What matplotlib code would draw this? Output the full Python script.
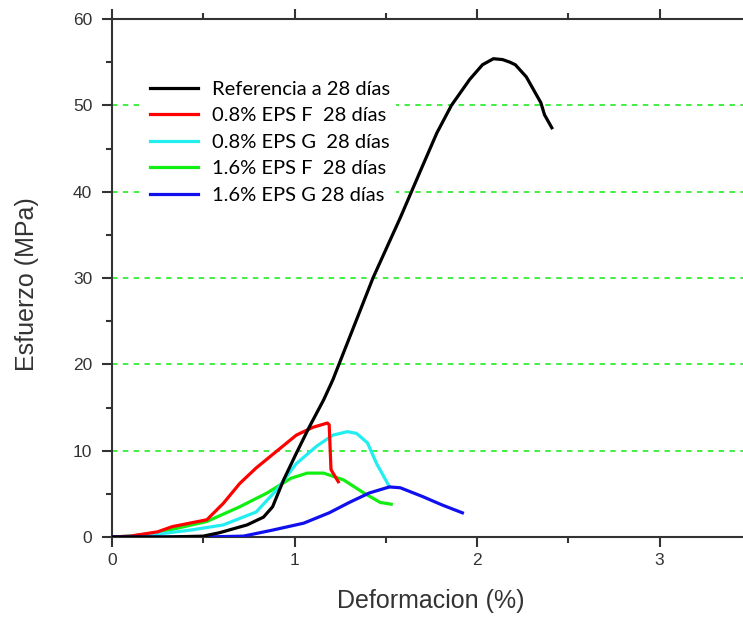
import matplotlib
matplotlib.use("Agg")
import matplotlib.pyplot as plt
from matplotlib.ticker import MultipleLocator

ref_x = [0, 0.3, 0.5, 0.59, 0.74, 0.83, 0.88, 0.94, 1.01, 1.08, 1.16, 1.21, 1.43, 1.58, 1.70, 1.78, 1.86, 1.96, 2.03, 2.09, 2.14, 2.18, 2.21, 2.27, 2.35, 2.37, 2.41]
ref_y = [0, 0, 0.1, 0.5, 1.4, 2.3, 3.5, 6.6, 9.7, 12.7, 15.9, 18.2, 30, 37.0, 42.9, 46.8, 50, 53, 54.7, 55.4, 55.3, 55.0, 54.7, 53.3, 50.3, 48.9, 47.4]

rf_x = [0, 0.1, 0.25, 0.33, 0.52, 0.61, 0.70, 0.79, 0.90, 1.01, 1.10, 1.18, 1.19, 1.20, 1.24]
rf_y = [0, 0.1, 0.6, 1.2, 2.0, 3.9, 6.2, 8.0, 9.9, 11.8, 12.7, 13.2, 13.0, 7.8, 6.4]

cg_x = [0, 0.2, 0.43, 0.61, 0.79, 0.90, 1.01, 1.12, 1.21, 1.29, 1.34, 1.40, 1.45, 1.50, 1.52]
cg_y = [0, 0.2, 0.8, 1.4, 2.9, 5.4, 8.5, 10.5, 11.8, 12.2, 12.0, 10.9, 8.5, 6.6, 5.8]

gf_x = [0, 0.1, 0.25, 0.52, 0.70, 0.85, 0.98, 1.07, 1.16, 1.27, 1.38, 1.47, 1.53]
gf_y = [0, 0.1, 0.5, 1.8, 3.5, 5.1, 6.8, 7.4, 7.4, 6.6, 5.1, 4.0, 3.8]

bg_x = [0, 0.5, 0.72, 0.88, 1.05, 1.19, 1.30, 1.41, 1.52, 1.58, 1.70, 1.81, 1.92]
bg_y = [0, 0, 0.1, 0.8, 1.6, 2.8, 4.0, 5.1, 5.8, 5.7, 4.7, 3.7, 2.8]

labels = ["Referencia a 28 días", "0.8% EPS F  28 días", "0.8% EPS G  28 días",
          "1.6% EPS F  28 días", "1.6% EPS G 28 días"]
colors = ["#000000", "#ff0000", "#22eef2", "#11ee11", "#1010ee"]

fig = plt.figure(figsize=(7.43, 6.18), dpi=100)
ax = fig.add_axes([112/743, 1-537/618, 1-112/743, (537-19)/618])

for y in [10, 20, 30, 40, 50]:
    ax.axhline(y, color="#33ee33", ls=(0, (3, 3)), lw=1.3, zorder=1)

series = [(ref_x, ref_y), (rf_x, rf_y), (cg_x, cg_y), (gf_x, gf_y), (bg_x, bg_y)]
order = [3, 2, 1, 4, 0]
lines = [None]*5
for i in order:
    xs, ys = series[i]
    lines[i], = ax.plot(xs, ys, color=colors[i], lw=2.3, zorder=3, label=labels[i])

ax.set_xlim(0, (743-112)/182.5)
ax.set_ylim(0, 60)
ax.xaxis.set_major_locator(MultipleLocator(1))
ax.xaxis.set_minor_locator(MultipleLocator(0.5))
ax.yaxis.set_major_locator(MultipleLocator(10))
ax.yaxis.set_minor_locator(MultipleLocator(5))
ax.spines["right"].set_visible(False)
for s in ["left", "bottom", "top"]:
    ax.spines[s].set_color("#333333")
    ax.spines[s].set_linewidth(1.5)
ax.tick_params(which="both", direction="out", color="#333333", width=1.5,
               top=True, labeltop=False, labelsize=12.5, labelcolor="#333333")
ax.tick_params(which="major", length=7.2)
ax.tick_params(which="minor", length=4.3)
ax.tick_params(axis="y", which="major", pad=7)
ax.tick_params(axis="x", which="major", pad=4.5)
for t in ax.get_xticklabels() + ax.get_yticklabels():
    t.set_fontfamily("Liberation Sans")

ax.set_xlabel("Deformacion (%)", fontsize=18, family="Liberation Sans", color="#333333")
ax.set_ylabel("Esfuerzo (MPa)", fontsize=18, family="Liberation Sans", color="#333333")
ax.xaxis.set_label_coords(0.505, -0.100)
ax.yaxis.set_label_coords(-0.116, 0.488)

leg = ax.legend(handles=lines, labels=labels, loc="upper left", bbox_to_anchor=(0.051, 0.893),
                frameon=True, fancybox=False, edgecolor="none", facecolor="white", framealpha=1,
                prop={"family": "Lato", "size": 14.5}, handlelength=2.35, labelspacing=0.47,
                handletextpad=0.7, borderpad=0.3, borderaxespad=0)
leg.set_zorder(2)

fig.savefig("out.png", dpi=100)
